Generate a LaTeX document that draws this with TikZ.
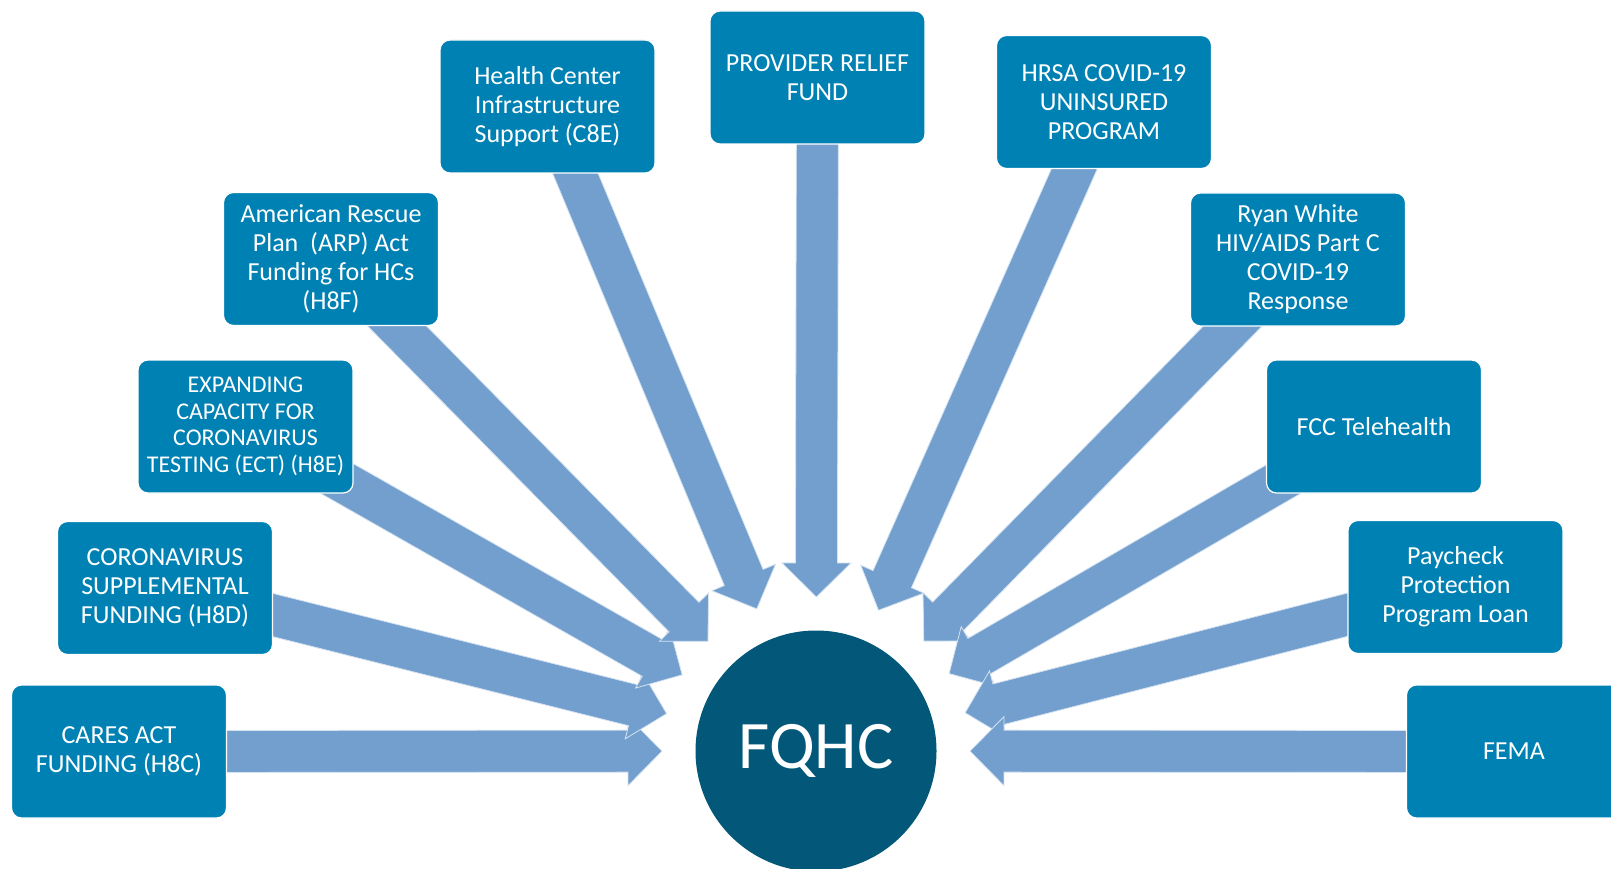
\documentclass[tikz,border=0pt]{standalone}
\usepackage{fontspec}
\setmainfont{Carlito}
\usetikzlibrary{calc}
\definecolor{boxblue}{HTML}{0081B3}
\definecolor{arrowblue}{HTML}{729FCE}
\definecolor{hubblue}{HTML}{03587A}
\pgfdeclarelayer{background}
\pgfsetlayers{background,main}
\newcommand\fundarrow[2]{%
  \coordinate (T) at ($(#2.center)!154pt!(#1.center)$);
  \coordinate (H) at ($(T)!34pt!(#1.center)$);
  \filldraw[blockarrow]
    ($(#1.center)!21pt!90:(T)$) -- ($(H)!21pt!90:(T)$) -- ($(H)!34.5pt!90:(T)$)
    -- (T) -- ($(H)!34.5pt!-90:(T)$) -- ($(H)!21pt!-90:(T)$) -- ($(#1.center)!21pt!-90:(T)$) -- cycle;
}
\begin{document}
\begin{tikzpicture}[x=1pt,y=-1pt,
  fundbox/.style={rectangle, rounded corners=10pt, fill=boxblue, draw=white, line width=1.2pt,
    minimum width=215pt, minimum height=133pt, text=white, align=center,
    font=\fontsize{26}{29}\selectfont, inner sep=0pt},
  smallbox/.style={fundbox, font=\fontsize{24}{26.7}\selectfont},
  hub/.style={circle, fill=hubblue, minimum size=241pt, text=white,
    font=\fontsize{68}{80}\selectfont, inner sep=0pt},
  blockarrow/.style={fill=arrowblue, draw=white!70!arrowblue, line width=0.8pt, line join=miter}
]
\useasboundingbox (0,0) rectangle (1611,869);
\node[hub] (fqhc) at (816,751) {FQHC};
\node[fundbox] (b1) at (119,751.5) {CARES ACT\\FUNDING (H8C)};
\node[fundbox] (b2) at (165,588) {CORONAVIRUS\\SUPPLEMENTAL\\FUNDING (H8D)};
\node[smallbox] (b3) at (245.5,426.5) {EXPANDING\\CAPACITY FOR\\CORONAVIRUS\\TESTING (ECT) (H8E)};
\node[fundbox] (b4) at (331,259) {American Rescue\\Plan~~(ARP) Act\\Funding for HCs\\(H8F)};
\node[fundbox] (b5) at (547.5,106.5) {Health Center\\Infrastructure\\Support (C8E)};
\node[fundbox] (b6) at (817.5,77.5) {PROVIDER RELIEF\\FUND};
\node[fundbox] (b7) at (1104,102) {HRSA COVID-19\\UNINSURED\\PROGRAM};
\node[fundbox] (b8) at (1298,259.5) {Ryan White\\HIV/AIDS Part C\\COVID-19\\Response};
\node[fundbox] (b9) at (1374,426.5) {FCC Telehealth};
\node[fundbox] (b10) at (1455.5,587) {Paycheck\\Protection\\Program Loan};
\node[fundbox] (b11) at (1514,751.5) {FEMA};
\begin{pgfonlayer}{background}
\foreach \b in {b1,b2,b3,b4,b5,b6,b7,b8,b9,b10,b11}{\fundarrow{\b}{fqhc}}
\end{pgfonlayer}
\end{tikzpicture}
\end{document}
